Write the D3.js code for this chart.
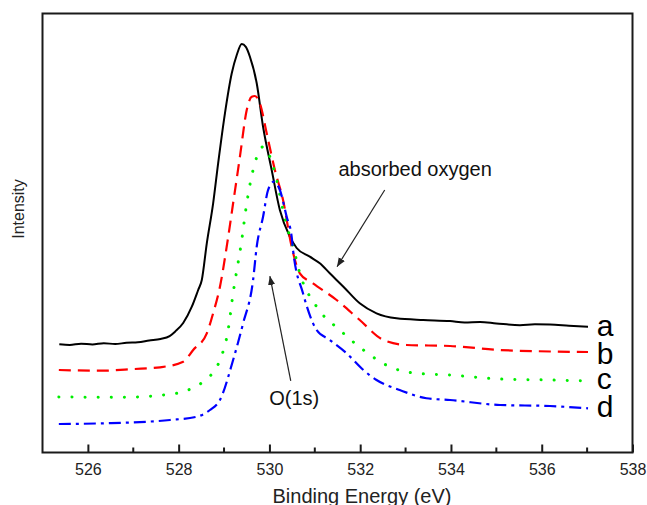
<!DOCTYPE html>
<html>
<head>
<meta charset="utf-8">
<script src="https://cdn.jsdelivr.net/npm/d3@7"></script>
<style>
  html, body { margin: 0; padding: 0; background: #fff; }
  svg { display: block; font-family: Arial, "Liberation Sans", sans-serif; }
</style>
</head>
<body>
<svg id="chart" width="647" height="505"></svg>
<script>
// O(1s) XPS spectra, binding energy (eV) vs. intensity (arbitrary units)
const energyA = [525.37, 525.6, 525.85, 526.1, 526.35, 526.6, 526.85, 527.1, 527.35, 527.6, 527.8, 527.92, 528.10, 528.29, 528.43, 528.51, 528.62, 528.76, 528.87, 529.02, 529.17, 529.28, 529.39, 529.48, 529.57, 529.72, 529.86, 530.05, 530.23, 530.45, 530.60, 530.89, 531.11, 531.33, 531.63, 531.99, 532.36, 532.80, 533.39, 533.98, 534.3, 534.64, 535.0, 535.52, 535.85, 536.18, 536.6, 537.02];
const intensityA = [24.65, 24.5, 24.8, 24.6, 24.9, 24.7, 25.0, 25.1, 25.5, 25.85, 26.5, 27.52, 29.50, 33.21, 37.02, 39.29, 47.65, 56.77, 65.88, 77.27, 86.38, 90.55, 93.05, 92.4, 90.16, 84.10, 74.21, 64.35, 55.24, 49.16, 46.58, 44.60, 43.10, 40.82, 37.77, 33.99, 31.71, 30.57, 30.18, 29.95, 29.6, 29.73, 29.4, 29.0, 29.2, 29.16, 28.9, 28.66];

const energyB = [525.36, 526.27, 527.0, 527.59, 528.10, 528.32, 528.62, 528.76, 528.91, 529.07, 529.20, 529.35, 529.50, 529.61, 529.68, 529.79, 529.94, 530.12, 530.30, 530.49, 530.67, 530.96, 531.48, 531.99, 532.51, 533.02, 533.98, 535.08, 536.18, 537.02];
const intensityB = [18.79, 18.63, 19.0, 19.41, 20.68, 23.35, 27.15, 31.71, 37.77, 47.65, 56.77, 67.38, 78.02, 81.05, 81.21, 79.54, 72.71, 64.35, 57.52, 46.88, 40.82, 38.54, 34.74, 30.18, 25.63, 24.49, 24.26, 23.35, 23.01, 22.89];

const energyC = [525.36, 526.71, 527.96, 528.29, 528.54, 528.91, 529.09, 529.20, 529.39, 529.50, 529.64, 529.79, 529.86, 530.01, 530.16, 530.30, 530.45, 530.52, 530.67, 531.04, 531.55, 532.07, 532.65, 533.24, 533.98, 535.08, 536.18, 537.02];
const intensityC = [12.64, 12.57, 13.49, 14.62, 16.13, 21.07, 27.90, 36.26, 48.41, 56.77, 64.35, 68.91, 69.66, 67.38, 62.07, 55.24, 49.16, 46.88, 40.82, 33.21, 27.90, 23.35, 19.54, 18.04, 17.65, 16.74, 16.51, 16.29];

const energyD = [525.36, 526.34, 527.81, 528.40, 528.69, 528.91, 529.20, 529.42, 529.64, 529.72, 529.86, 529.97, 530.10, 530.23, 530.38, 530.49, 530.52, 530.74, 531.04, 531.33, 531.70, 532.07, 532.36, 532.87, 533.46, 533.98, 535.08, 536.18, 537.02];
const intensityD = [6.49, 6.65, 7.40, 8.15, 9.68, 11.96, 21.07, 29.43, 39.29, 46.88, 53.71, 59.79, 61.69, 59.79, 53.71, 49.16, 46.13, 36.26, 27.90, 25.63, 22.60, 18.79, 16.51, 14.24, 12.35, 11.96, 10.82, 10.59, 10.07];

const seriesNames = ["a", "b", "c", "d"];
const xTickValues = [526, 528, 530, 532, 534, 536, 538];
const xMinorTickValues = [525, 527, 529, 531, 533, 535, 537];

const svg = d3.select("#chart");
const plotLeft = 42.5, plotRight = 632.5, plotTop = 13.5, plotBottom = 452.5;

const x = d3.scaleLinear().domain([525, 538]).range([plotLeft, plotRight]);
const y = d3.scaleLinear().domain([0, 100]).range([plotBottom, plotTop]);

const series = [
  { name: seriesNames[0], ex: energyA, iy: intensityA, color: "#000000", dash: null, width: 2 },
  { name: seriesNames[1], ex: energyB, iy: intensityB, color: "#ff0000", dash: "12,7", width: 2.2 },
  { name: seriesNames[2], ex: energyC, iy: intensityC, color: "#00ee00", dash: "0.1,13", width: 3, round: true },
  { name: seriesNames[3], ex: energyD, iy: intensityD, color: "#0000ff", dash: "12,5,3,5", width: 2.2 }
];

const line = d3.line()
  .x(d => x(d[0]))
  .y(d => y(d[1]))
  .curve(d3.curveMonotoneX);

// spectra
svg.append("g").selectAll("path")
  .data(series)
  .join("path")
  .attr("d", s => line(s.ex.map((e, i) => [e, s.iy[i]])))
  .attr("fill", "none")
  .attr("stroke", s => s.color)
  .attr("stroke-width", s => s.width)
  .attr("stroke-dasharray", s => s.dash)
  .attr("stroke-linejoin", "round")
  .attr("stroke-linecap", s => s.round ? "round" : "butt");

// curve letters at the right end
const letterPos = [26.65, 20.16, 14.46, 8.2];
svg.append("g").selectAll("text")
  .data(series)
  .join("text")
  .attr("x", x(537.21))
  .attr("y", (s, i) => y(letterPos[i]))
  .attr("font-size", 30)
  .attr("fill", "#000")
  .text(s => s.name);

// frame
svg.append("rect")
  .attr("x", plotLeft).attr("y", plotTop)
  .attr("width", plotRight - plotLeft).attr("height", plotBottom - plotTop)
  .attr("fill", "none")
  .attr("stroke", "#1a1a1a")
  .attr("stroke-width", 2);

// bottom axis: inward ticks
const axis = svg.append("g").attr("transform", `translate(0,${plotBottom})`);
axis.call(d3.axisBottom(x).tickValues(xTickValues).tickSizeInner(-8).tickSizeOuter(0).tickFormat(d3.format("d")));
axis.select(".domain").remove();
axis.selectAll(".tick line").attr("stroke", "#1a1a1a").attr("stroke-width", 2);
axis.selectAll(".tick text")
  .attr("y", 22.5)
  .attr("dy", null)
  .attr("font-size", 16)
  .attr("font-family", "Arial, 'Liberation Sans', sans-serif")
  .attr("fill", "#222");
axis.selectAll("line.minor")
  .data(xMinorTickValues.filter(v => v > 525))
  .join("line")
  .attr("class", "minor")
  .attr("x1", d => x(d)).attr("x2", d => x(d))
  .attr("y1", 0).attr("y2", -5)
  .attr("stroke", "#1a1a1a")
  .attr("stroke-width", 2);

// axis titles
svg.append("text")
  .attr("x", 362).attr("y", 502.5)
  .attr("text-anchor", "middle")
  .attr("font-size", 20)
  .attr("fill", "#222")
  .text("Binding Energy (eV)");

svg.append("text")
  .attr("transform", "translate(23.5,209) rotate(-90)")
  .attr("text-anchor", "middle")
  .attr("font-size", 16)
  .attr("fill", "#222")
  .text("Intensity");

// annotations
const defs = svg.append("defs");
defs.append("marker")
  .attr("id", "arrowhead")
  .attr("viewBox", "0 0 10 10")
  .attr("refX", 10).attr("refY", 5)
  .attr("markerWidth", 9).attr("markerHeight", 9)
  .attr("markerUnits", "userSpaceOnUse")
  .attr("orient", "auto")
  .append("path")
  .attr("d", "M0,1 L10,5 L0,9 Z")
  .attr("fill", "#222");

const notes = [
  { text: "absorbed oxygen", tx: 531.52, ty: 62.98, from: [532.54, 59.79], to: [531.49, 42.32] },
  { text: "O(1s)", tx: 529.995, ty: 10.82, from: [530.47, 16.29], to: [530.01, 40.2] }
];

svg.append("g").selectAll("line")
  .data(notes)
  .join("line")
  .attr("x1", d => x(d.from[0])).attr("y1", d => y(d.from[1]))
  .attr("x2", d => x(d.to[0])).attr("y2", d => y(d.to[1]))
  .attr("stroke", "#222")
  .attr("stroke-width", 1.2)
  .attr("marker-end", "url(#arrowhead)");

svg.append("g").selectAll("text")
  .data(notes)
  .join("text")
  .attr("x", d => x(d.tx)).attr("y", d => y(d.ty))
  .attr("font-size", 20)
  .attr("fill", "#111")
  .text(d => d.text);
</script>
</body>
</html>
